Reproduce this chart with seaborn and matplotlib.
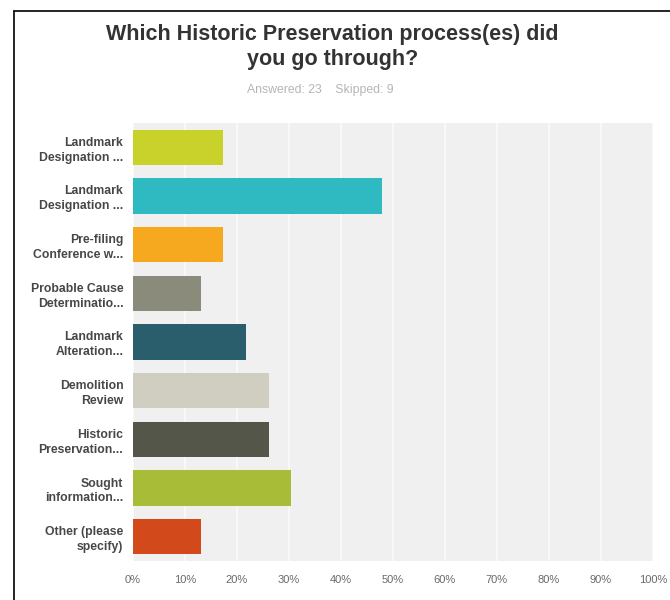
import matplotlib
matplotlib.use("Agg")
import matplotlib.pyplot as plt
from matplotlib.lines import Line2D
import numpy as np
import pandas as pd
import seaborn as sns

# answer choices (as truncated in the survey chart) and share of respondents, %
choices = ["Landmark\nDesignation ...", "Landmark\nDesignation ...", "Pre-filing\nConference w...",
           "Probable Cause\nDeterminatio...", "Landmark\nAlteration...", "Demolition\nReview",
           "Historic\nPreservation...", "Sought\ninformation...", "Other (please\nspecify)"]
percent = [17.39, 47.83, 17.39, 13.04, 21.74, 26.09, 26.09, 30.43, 13.04]
colors = ["#c8d22a", "#2fb9c1", "#f6a81f", "#8a8b7b", "#2b5e6d",
          "#d0cec0", "#55564a", "#a8bc38", "#d2491c"]
x_ticks = [0, 10, 20, 30, 40, 50, 60, 70, 80, 90, 100]
x_labels = [f"{t}%" for t in x_ticks]

df = pd.DataFrame({"id": [str(i) for i in range(len(choices))], "pct": percent})

sns.set_style("white")
plt.rcParams["font.family"] = ["Liberation Sans", "DejaVu Sans"]

fig = plt.figure(figsize=(6.7, 6.0), dpi=100)
ax = fig.add_axes([0.1985, 0.065, 0.776, 0.73])
ax.set_facecolor("#f0f0f0")

sns.barplot(data=df, x="pct", y="id", hue="id", palette=colors, legend=False,
            width=0.72, saturation=1, linewidth=0, ax=ax, zorder=3)

ax.set_xlim(0, 100)
ax.set_ylim(len(choices) - 0.5, -0.5)
ax.set_xticks(x_ticks)
ax.set_xticklabels(x_labels, fontsize=8, color="#6a6a6a")
ax.set_yticks(range(len(choices)))
ax.set_yticklabels(choices, fontsize=8.8, fontweight="bold", color="#474747",
                   linespacing=1.3)
ax.tick_params(axis="both", length=0)
ax.tick_params(axis="y", pad=7)
ax.tick_params(axis="x", pad=10)
ax.set_xlabel("")
ax.set_ylabel("")
ax.xaxis.grid(True, color="#fafafa", linewidth=1.2, zorder=0)
ax.set_axisbelow(True)
for s in ax.spines.values():
    s.set_visible(False)

fig.text(0.496, 0.96, "Which Historic Preservation process(es) did\nyou go through?",
         ha="center", va="top", fontsize=15.5, fontweight="bold", color="#333333",
         linespacing=1.25)
fig.text(0.478, 0.85, "Answered: 23    Skipped: 9", ha="center", va="center",
         fontsize=8.8, color="#b5b5b5")

# frame around the screenshot
fig.add_artist(Line2D([14 / 670, 1], [1 - 11 / 600, 1 - 11 / 600],
                      transform=fig.transFigure, color="black", linewidth=1.2))
fig.add_artist(Line2D([14 / 670, 14 / 670], [0, 1 - 11 / 600],
                      transform=fig.transFigure, color="black", linewidth=1.2))

fig.savefig("out.png", dpi=100)
